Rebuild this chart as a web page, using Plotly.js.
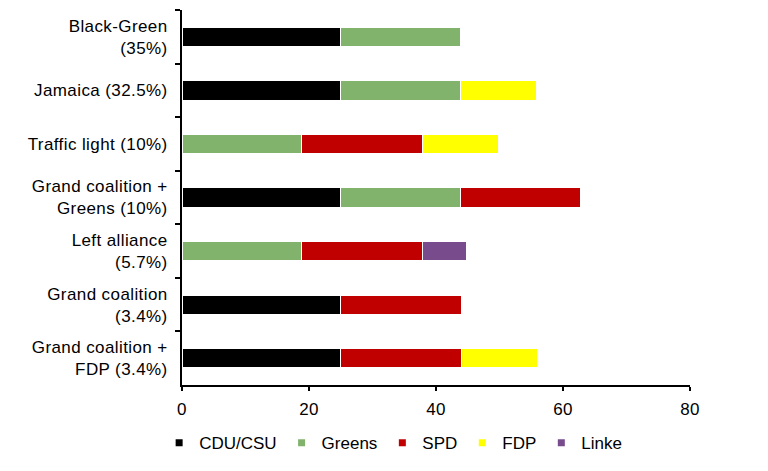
<!DOCTYPE html>
<html>
<head>
<meta charset="utf-8">
<script src="https://cdn.plot.ly/plotly-3.0.1.min.js"></script>
<style>html,body{margin:0;padding:0;background:#fff;}#chart{width:768px;height:471px;}
#chart .ytick text, #chart .xtick text {letter-spacing:0.4px;}</style>
</head>
<body>
<div id="chart"></div>
<script>
const categories = [
  "Black-Green<br>(35%)",
  "Jamaica (32.5%)",
  "Traffic light (10%)",
  "Grand coalition +<br>Greens (10%)",
  "Left alliance<br>(5.7%)",
  "Grand coalition<br>(3.4%)",
  "Grand coalition +<br>FDP (3.4%)"
];
const parties = ["CDU/CSU", "Greens", "SPD", "FDP", "Linke"];
const colors = ["#000000", "#82B36D", "#C00000", "#FFFF00", "#784B8D"];
const cdu    = [25, 25, null, 25, null, 25, 25];
const greens = [18.8, 18.8, 18.8, 18.8, 18.8, null, null];
const spd    = [null, null, 19, 19, 19, 19, 19];
const fdp    = [null, 12, 12, null, null, null, 12];
const linke  = [null, null, null, null, 7, null, null];
const values = [cdu, greens, spd, fdp, linke];
const xTicks = [0, 20, 40, 60, 80];

const traces = [];
values.forEach((v, i) => {
  traces.push({
    type: "bar", orientation: "h", name: parties[i],
    y: categories, x: v,
    marker: {color: colors[i], line: {color: "#ffffff", width: 1}},
    showlegend: false, hoverinfo: "x+name"
  });
});
values.forEach((v, i) => {
  traces.push({
    type: "scatter", mode: "markers", name: parties[i],
    x: [null], y: [categories[0]],
    marker: {symbol: "square", size: 7, color: colors[i]},
    showlegend: true
  });
});

const layout = {
  width: 768, height: 471,
  margin: {l: 182, r: 78, t: 10, b: 84},
  paper_bgcolor: "#ffffff", plot_bgcolor: "#ffffff",
  font: {family: "Liberation Sans, Arial, sans-serif", size: 17, color: "#000000"},
  barmode: "stack", bargap: 0.64,
  xaxis: {
    range: [0, 80], tickvals: xTicks, ticktext: xTicks.map(String),
    showgrid: false, zeroline: false, showline: true, linecolor: "#000000", linewidth: 2,
    ticks: "outside", ticklen: 4, tickwidth: 2, tickcolor: "#000000",
    tickfont: {size: 17}, ticklabelstandoff: 4, fixedrange: true
  },
  yaxis: {
    type: "category", autorange: "reversed",
    showgrid: false, zeroline: false, showline: true, linecolor: "#000000", linewidth: 2,
    ticks: "outside", tickson: "boundaries", ticklen: 5, tickwidth: 2, tickcolor: "#000000",
    tickfont: {size: 17}, ticklabelstandoff: 9
  },
  legend: {
    orientation: "h", traceorder: "normal", x: -0.045, xanchor: "left", y: -0.155, yanchor: "middle",
    font: {size: 17}, itemwidth: 30, tracegroupgap: 0, bgcolor: "rgba(0,0,0,0)"
  },
  showlegend: true
};

Plotly.newPlot("chart", traces, layout, {displayModeBar: false, staticPlot: true});
</script>
</body>
</html>
